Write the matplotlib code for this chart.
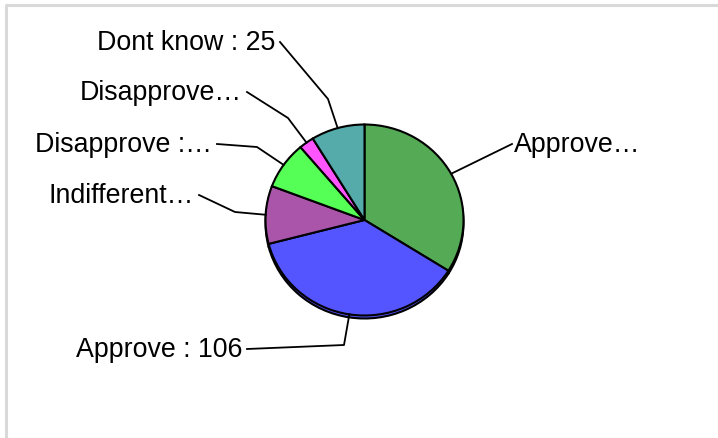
import numpy as np
import matplotlib.pyplot as plt
from matplotlib.lines import Line2D

# survey answers, clockwise from 12 o'clock
labels = ['Approve…', 'Approve : 106', 'Indifferent…', 'Disapprove :…', 'Disapprove…', 'Dont know : 25']
counts = [97, 106, 28, 23, 7, 25]
colors = ['#55aa55', '#5555ff', '#aa55aa', '#55ff55', '#ff55ff', '#55aaaa']

W, H = 718, 439
CX, CY, RX, RY = 364.5, 221.0, 99.0, 95.5

# label layout in pixels: text anchor (x, baseline) and kink point of leader line
text_pos = [(514, 152), (242, 357), (194, 203), (212, 152), (242, 100), (275, 50)]
text_ha = ['left', 'right', 'right', 'right', 'right', 'right']
kinks = [None, (344, 346), (235, 213), (257, 148), (288, 119), (328, 100)]

plt.rcParams['font.family'] = ['Liberation Sans', 'DejaVu Sans']
fig = plt.figure(figsize=(W / 100, H / 100), dpi=100)


def pie_axes(dy):
    ax = fig.add_axes([(CX - RX) / W, 1 - (CY + RY + dy) / H, 2 * RX / W, 2 * RY / H])
    ax.pie(counts, colors=colors, startangle=90, counterclock=False, radius=1,
           wedgeprops=dict(edgecolor='black', linewidth=1.5))
    ax.set_aspect('auto')
    ax.set_xlim(-1, 1)
    ax.set_ylim(-1, 1)
    ax.axis('off')
    return ax


pie_axes(3)   # shallow 3d rim
pie_axes(0)

over = fig.add_axes([0, 0, 1, 1], facecolor='none')
over.set_xlim(0, W)
over.set_ylim(H, 0)
over.axis('off')

# frame
over.add_line(Line2D([5.5, 5.5, W], [H, 5.5, 5.5], color='#d9d9d9', lw=2.2))

total = sum(counts)
cum = np.cumsum([0] + counts)
for i, lab in enumerate(labels):
    mid = np.deg2rad(90 - 360 * (cum[i] + counts[i] / 2) / total)
    ex, ey = CX + RX * np.cos(mid), CY - RY * np.sin(mid)
    tx, ty = text_pos[i]
    sx = tx - 2 if text_ha[i] == 'left' else tx + 5
    sy = ty - 7
    pts = [(sx, sy)]
    if kinks[i] is not None:
        pts.append(kinks[i])
    pts.append((ex, ey))
    xs, ys = zip(*pts)
    over.add_line(Line2D(xs, ys, color='black', lw=1.3))
    over.text(tx, ty, lab, ha=text_ha[i], va='baseline', fontsize=19.3, color='black')

fig.savefig('out.png', dpi=100)
